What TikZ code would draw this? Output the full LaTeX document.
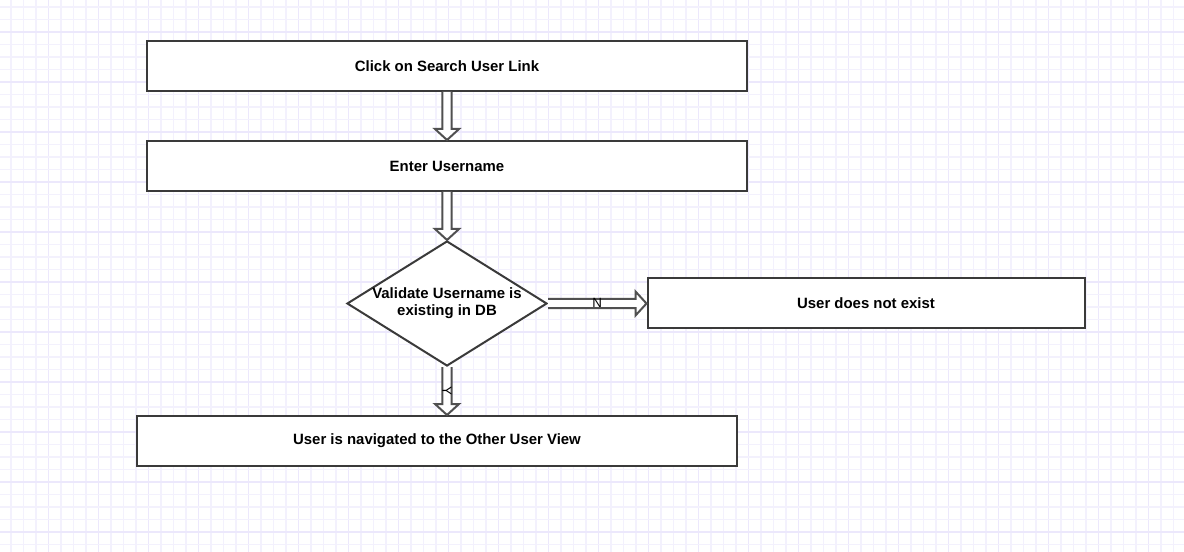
\documentclass[tikz,border=0pt]{standalone}
\usepackage{fontspec}
\setmainfont{Liberation Sans}
\usetikzlibrary{shapes.geometric,calc}
\definecolor{gridminor}{HTML}{F3F1FD}
\definecolor{gridmajor}{HTML}{ECE8FC}
\definecolor{boxline}{HTML}{3A3A3A}
\definecolor{arrline}{HTML}{505050}
\tikzset{
  stepbox/.style={draw=boxline, line width=1.5pt, fill=white, minimum width=450pt, minimum height=37.5pt, inner sep=0pt, font=\fontsize{11.2}{13.5}\selectfont\bfseries},
  decision/.style={diamond, draw=boxline, line width=1.5pt, fill=white, minimum width=150pt, minimum height=93.75pt, inner sep=0pt, aspect=1.6, align=center, font=\fontsize{11.2}{12.5}\selectfont\bfseries},
  arrowedge/.style={draw=arrline, line width=1.5pt, line join=miter},
  edgelabel/.style={font=\fontsize{10}{12}\selectfont, inner sep=0pt, text=black}
}
\newcommand{\blockdown}[2]{%
  \fill[white] let \p1=(#1), \p2=(#2) in (\x1-3.4pt,\y1) -- (\x1-3.4pt,\y2+8.25pt) -- (\x1-9pt,\y2+8.25pt) -- (\x1,\y2) -- (\x1+9pt,\y2+8.25pt) -- (\x1+3.4pt,\y2+8.25pt) -- (\x1+3.4pt,\y1) -- cycle;
  \draw[arrowedge] let \p1=(#1), \p2=(#2) in (\x1-3.4pt,\y1) -- (\x1-3.4pt,\y2+8.25pt) -- (\x1-9pt,\y2+8.25pt) -- (\x1,\y2) -- (\x1+9pt,\y2+8.25pt) -- (\x1+3.4pt,\y2+8.25pt) -- (\x1+3.4pt,\y1);
}
\newcommand{\blockright}[2]{%
  \fill[white] let \p1=(#1), \p2=(#2) in (\x1,\y1+3.4pt) -- (\x2-8.25pt,\y1+3.4pt) -- (\x2-8.25pt,\y1+9pt) -- (\x2,\y1) -- (\x2-8.25pt,\y1-9pt) -- (\x2-8.25pt,\y1-3.4pt) -- (\x1,\y1-3.4pt) -- cycle;
  \draw[arrowedge] let \p1=(#1), \p2=(#2) in (\x1,\y1+3.4pt) -- (\x2-8.25pt,\y1+3.4pt) -- (\x2-8.25pt,\y1+9pt) -- (\x2,\y1) -- (\x2-8.25pt,\y1-9pt) -- (\x2-8.25pt,\y1-3.4pt) -- (\x1,\y1-3.4pt);
}
\begin{document}
\begin{tikzpicture}[x=0.75pt,y=-0.75pt]
\useasboundingbox (0,0) rectangle (1184,552);
\fill[white] (0,0) rectangle (1184,552);
% grid
\foreach \k in {1,...,95}{
  \pgfmathsetmacro{\gx}{-1.5+12.5*\k}
  \pgfmathtruncatemacro{\m}{mod(\k,4)}
  \ifnum\m=0 \draw[gridmajor, line width=1pt] (\gx,0) -- (\gx,552);
  \else \draw[gridminor, line width=1pt] (\gx,0) -- (\gx,552); \fi
}
\foreach \k in {0,...,44}{
  \pgfmathsetmacro{\gy}{7+12.5*\k}
  \pgfmathtruncatemacro{\m}{mod(\k,4)}
  \ifnum\m=2 \draw[gridmajor, line width=1pt] (0,\gy) -- (1184,\gy);
  \else \draw[gridminor, line width=1pt] (0,\gy) -- (1184,\gy); \fi
}
% nodes
\node[stepbox] (click) at (447,66) {Click on Search User Link};
\node[stepbox] (enter) at (447,166) {Enter Username};
\node[decision] (valid) at (447,303.5) {Validate Username is\\ existing in DB};
\node[stepbox, minimum width=327.75pt] (noexist) at (866,303) {User does not exist};
\node[stepbox] (nav) at (437,441) {User is navigated to the Other User View};
% connectors
\blockdown{click.south}{enter.north}
\blockdown{enter.south}{valid.north}
\blockright{valid.east}{noexist.west}
\blockdown{valid.south}{valid.south |- nav.north}
% labels
\node[edgelabel] (nlabel) at ($(valid.east)!0.5!(noexist.west)$) {N};
\node[edgelabel, rotate=-90] (ylabel) at ($(valid.south)!0.5!(valid.south |- nav.north)$) {Y};
\end{tikzpicture}
\end{document}
